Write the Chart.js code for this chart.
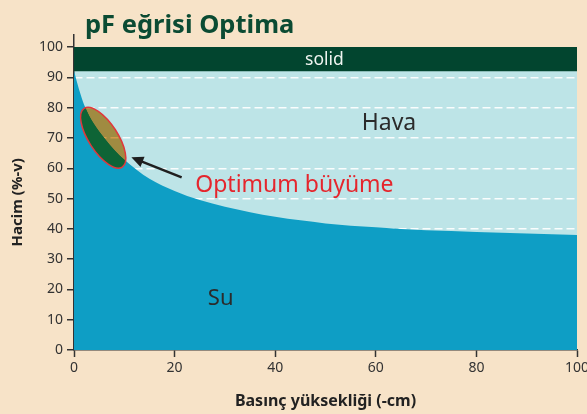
<!DOCTYPE html>
<html>
<head>
<meta charset="utf-8">
<script src="https://cdn.jsdelivr.net/npm/chart.js@4"></script>
<style>
  html, body { margin: 0; padding: 0; background: #f7e3c8; }
</style>
</head>
<body>
<canvas id="pfChart" width="587" height="414"></canvas>
<script>
// pF curve: water content (vol %) against suction height (-cm)
const pressure = [0, 1, 2, 4, 6, 8, 10, 15, 20, 25, 30, 35, 40, 45, 50, 60, 70, 80, 90, 100];
const waterContent = [92, 86, 81, 74.5, 70, 66, 62.8, 56.5, 52.5, 49.5, 47.3, 45.5, 44, 42.8, 41.8, 40.5, 39.5, 39, 38.5, 38];
const solidRange = [92, 100];
const xTickValues = [0, 20, 40, 60, 80, 100];
const yTickValues = [0, 10, 20, 30, 40, 50, 60, 70, 80, 90, 100];

const chartTitle = 'pF eğrisi Optima';
const zoneNames = ['solid', 'Hava', 'Optimum büyüme', 'Su'];

const font = '"Noto Sans", "Open Sans", sans-serif';

const zonesPlugin = {
  id: 'zones',
  beforeDraw(chart) {
    const { ctx, chartArea: a, scales: { y } } = chart;
    const top = y.getPixelForValue(solidRange[1]);
    ctx.save();
    ctx.fillStyle = '#bde4e7';
    ctx.fillRect(a.left, top, a.right - a.left, y.getPixelForValue(0) - top);
    ctx.restore();
  },
  afterDatasetsDraw(chart, args, opts) {
    const { ctx, chartArea: a, scales: { x, y } } = chart;
    const cx = x.getPixelForValue(opts.optimum.x);
    const cy = y.getPixelForValue(opts.optimum.y);
    const ellipse = () => {
      ctx.beginPath();
      ctx.ellipse(cx, cy, 35, 14.5, 57 * Math.PI / 180, 0, Math.PI * 2);
    };
    ctx.save();
    ellipse();
    ctx.globalCompositeOperation = 'multiply';
    ctx.fillStyle = '#d89c48';
    ctx.fill();
    ctx.globalCompositeOperation = 'source-over';
    // part of the zone below the water curve
    ctx.save();
    ctx.beginPath();
    chart.getDatasetMeta(0).dataset.path(ctx);
    ctx.lineTo(a.right, a.bottom);
    ctx.lineTo(a.left, a.bottom);
    ctx.closePath();
    ctx.clip();
    ellipse();
    ctx.fillStyle = '#0e6436';
    ctx.fill();
    ctx.restore();
    ellipse();
    ctx.strokeStyle = '#e2373c';
    ctx.lineWidth = 1.5;
    ctx.stroke();

    // arrow pointing at the optimum zone
    const x1 = x.getPixelForValue(opts.arrow[0]), y1 = y.getPixelForValue(opts.arrow[1]);
    const x2 = x.getPixelForValue(opts.arrow[2]), y2 = y.getPixelForValue(opts.arrow[3]);
    const ang = Math.atan2(y2 - y1, x2 - x1);
    ctx.strokeStyle = '#1f1f1f';
    ctx.fillStyle = '#1f1f1f';
    ctx.lineWidth = 2.5;
    ctx.beginPath();
    ctx.moveTo(x1, y1);
    ctx.lineTo(x2 - 8 * Math.cos(ang), y2 - 8 * Math.sin(ang));
    ctx.stroke();
    ctx.beginPath();
    ctx.moveTo(x2, y2);
    ctx.lineTo(x2 - 12 * Math.cos(ang) + 5.5 * Math.sin(ang), y2 - 12 * Math.sin(ang) - 5.5 * Math.cos(ang));
    ctx.lineTo(x2 - 12 * Math.cos(ang) - 5.5 * Math.sin(ang), y2 - 12 * Math.sin(ang) + 5.5 * Math.cos(ang));
    ctx.closePath();
    ctx.fill();

    // zone labels
    opts.labels.forEach((l, i) => {
      ctx.font = l.size + 'px ' + font;
      ctx.fillStyle = l.color;
      ctx.textAlign = l.align;
      ctx.textBaseline = 'alphabetic';
      ctx.fillText(zoneNames[i], x.getPixelForValue(l.x), y.getPixelForValue(l.y));
    });
    ctx.restore();
  },
  afterDraw(chart) {
    const { ctx } = chart;
    ctx.save();
    ctx.font = 'bold 25.5px ' + font;
    ctx.fillStyle = '#0b4b33';
    ctx.textAlign = 'left';
    ctx.textBaseline = 'alphabetic';
    ctx.fillText(chartTitle, 85, 33);
    ctx.restore();
  }
};

new Chart('pfChart', {
  type: 'line',
  data: {
    datasets: [
      {
        label: 'Su',
        data: pressure.map((p, i) => ({ x: p, y: waterContent[i] })),
        fill: 'origin',
        backgroundColor: '#0e9ec5',
        borderWidth: 0,
        pointRadius: 0,
        cubicInterpolationMode: 'monotone'
      },
      {
        label: 'solid',
        data: [{ x: xTickValues[0], y: solidRange[1] }, { x: xTickValues[xTickValues.length - 1], y: solidRange[1] }],
        fill: { value: solidRange[0] },
        backgroundColor: '#02452f',
        borderWidth: 0,
        pointRadius: 0
      }
    ]
  },
  options: {
    responsive: false,
    animation: false,
    layout: { padding: { top: 35, left: 5, right: 0, bottom: 1 } },
    plugins: {
      legend: { display: false },
      tooltip: { enabled: false },
      zones: {
        optimum: { x: 5.8, y: 70.1 },
        arrow: [21.4, 57, 11.4, 63.6],
        labels: [
          { x: 49.8, y: 94.0, size: 17.5, color: '#eef4f0', align: 'center' },
          { x: 57.2, y: 72.5, size: 23, color: '#2b2b2b', align: 'left' },
          { x: 24.1, y: 52.1, size: 23, color: '#e5262d', align: 'left' },
          { x: 26.6, y: 14.8, size: 22, color: '#2b2b2b', align: 'left' }
        ]
      }
    },
    scales: {
      x: {
        type: 'linear',
        min: 0,
        max: 100,
        afterBuildTicks: s => { s.ticks = xTickValues.map(v => ({ value: v })); },
        // the last tick label runs off the right edge, as in the original
        afterFit: s => { s.paddingRight = 10; },
        ticks: { font: { family: font, size: 14 }, color: '#333', padding: 3, maxRotation: 0 },
        grid: { drawOnChartArea: false, tickLength: 7, tickColor: '#333', tickWidth: 1.5, tickBorderDash: [] },
        border: { color: '#333', width: 1.5 },
        title: {
          display: true,
          text: 'Basınç yüksekliği (-cm)',
          font: { family: font, size: 16, weight: 'bold' },
          color: '#222',
          padding: { top: 12, bottom: 2 }
        }
      },
      y: {
        min: 0,
        max: 104,
        afterBuildTicks: s => { s.ticks = yTickValues.map(v => ({ value: v })); },
        ticks: { font: { family: font, size: 14 }, color: '#333', padding: 4 },
        grid: {
          color: c => (c.tick && c.tick.value > 0 && c.tick.value < 100) ? 'rgba(255,255,255,0.92)' : 'rgba(0,0,0,0)',
          lineWidth: 1.5,
          tickLength: 7,
          tickColor: '#333',
          tickWidth: 1.5,
          tickBorderDash: []
        },
        border: { color: '#333', width: 1.5, dash: [8, 4] },
        title: {
          display: true,
          text: 'Hacim (%-v)     ',
          font: { family: font, size: 15, weight: 'bold' },
          color: '#222',
          padding: { top: 4, bottom: 8 }
        }
      }
    }
  },
  plugins: [zonesPlugin]
});
</script>
</body>
</html>
